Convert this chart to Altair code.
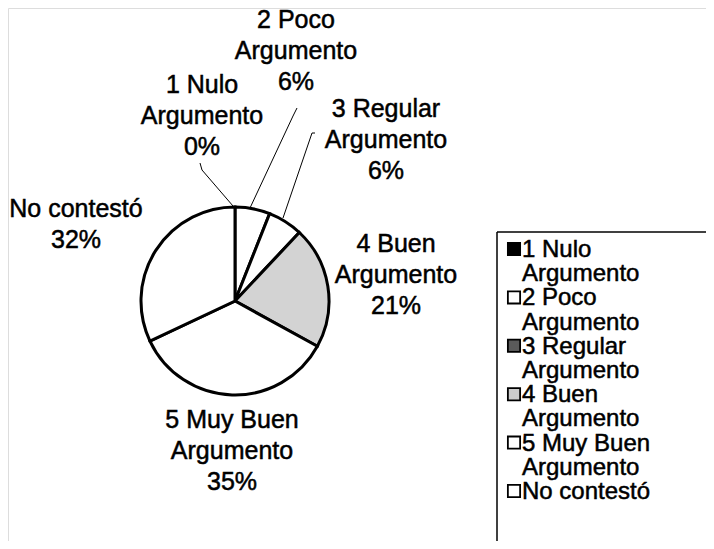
import altair as alt
import pandas as pd

# ---------------- data ----------------
categories = ["1 Nulo Argumento", "2 Poco Argumento", "3 Regular Argumento",
              "4 Buen Argumento", "5 Muy Buen Argumento", "No contestó"]
percents = [0, 6, 6, 21, 35, 32]

# ---------------- styles / layout ----------------
M = 8  # page margin
FONT = "Liberation Sans"
FS = 25
LEG_FS = 24
LH = 31
TXT_STROKE = 0.5
pie_fill = ["#000000", "#ffffff", "#ffffff", "#d3d3d3", "#ffffff", "#ffffff"]
legend_fill = ["#000000", "#ffffff", "#5a5a5a", "#cccccc", "#ffffff", "#ffffff"]
CX, CY, R = 235, 301, 94
# label anchor (centre x, first baseline y) in page pixels
label_pos = [(202, 93), (296, 28), (386, 117), (396, 252), (232, 428), (76, 217)]
# leader lines (page pixels)
leaders = [
    [(200, 163), (202, 170), (233, 206)],
    [(297, 108), (293, 116), (250, 208)],
    [(315, 133), (312, 133), (283, 218)],
]
LEG_X, LEG_Y = 497, 232
LEG_TEXT_X = 522
LEG_Y0, LEG_DY = 257, 24.2


def split_label(c):
    if c.endswith(" Argumento"):
        return [c[: -len(" Argumento")], "Argumento"]
    return [c]


# pie
pie_df = pd.DataFrame({
    "cat": categories,
    "pct": percents,
    "idx": list(range(len(categories))),
    "fill": pie_fill,
})
pie = alt.Chart(pie_df).mark_arc(outerRadius=R, stroke="black", strokeWidth=3).encode(
    theta=alt.Theta("pct:Q", stack=True),
    order=alt.Order("idx:Q"),
    fill=alt.Fill("fill:N", scale=None),
    x=alt.value(CX - M),
    y=alt.value(CY - M),
)

# slice labels
lab_rows = []
for c, p, (lx, ly) in zip(categories, percents, label_pos):
    lab_rows.append({"text": "\n".join(split_label(c) + [f"{p}%"]), "x": lx - M, "y": ly - M})
lab_df = pd.DataFrame(lab_rows)
labels = alt.Chart(lab_df).mark_text(
    font=FONT, fontSize=FS, lineBreak="\n", lineHeight=LH, align="center", baseline="alphabetic",
    color="black", stroke="black", strokeWidth=TXT_STROKE
).encode(x=alt.X("x:Q", scale=None), y=alt.Y("y:Q", scale=None), text="text:N")

# leader lines
lead_rows = []
for i, pts in enumerate(leaders):
    for j, (px, py) in enumerate(pts):
        lead_rows.append({"g": i, "o": j, "x": px - M, "y": py - M})
lead_df = pd.DataFrame(lead_rows)
lead = alt.Chart(lead_df).mark_line(color="black", strokeWidth=1).encode(
    x=alt.X("x:Q", scale=None), y=alt.Y("y:Q", scale=None), detail="g:N", order="o:Q"
)

# legend
leg_text_rows, leg_sym_rows = [], []
line = 0
for c, f in zip(categories, legend_fill):
    parts = split_label(c)
    leg_sym_rows.append({"x": LEG_X + 17 - M, "y": LEG_Y0 + line * LEG_DY - 8 - M, "fill": f})
    for t in parts:
        leg_text_rows.append({"text": t, "x": LEG_TEXT_X - M, "y": LEG_Y0 + line * LEG_DY - M})
        line += 1
leg_text = alt.Chart(pd.DataFrame(leg_text_rows)).mark_text(
    font=FONT, fontSize=LEG_FS, align="left", baseline="alphabetic", color="black",
    stroke="black", strokeWidth=TXT_STROKE
).encode(x=alt.X("x:Q", scale=None), y=alt.Y("y:Q", scale=None), text="text:N")
leg_sym = alt.Chart(pd.DataFrame(leg_sym_rows)).mark_square(
    size=150, stroke="black", strokeWidth=1.8, opacity=1
).encode(x=alt.X("x:Q", scale=None), y=alt.Y("y:Q", scale=None), fill=alt.Fill("fill:N", scale=None))

box = pd.DataFrame({"x": [LEG_X - M, LEG_X - M], "x2": [706 - M, LEG_X - M],
                    "y": [LEG_Y - M, LEG_Y - M], "y2": [LEG_Y - M, 549 - M]})
box_rules = alt.Chart(box).mark_rule(color="black", strokeWidth=1.5).encode(
    x=alt.X("x:Q", scale=None), x2="x2:Q", y=alt.Y("y:Q", scale=None), y2="y2:Q"
)

chart = alt.layer(pie, lead, labels, box_rules, leg_sym, leg_text).properties(
    width=698, height=533, padding=0, autosize=alt.AutoSizeParams(type="none")
).configure_view(stroke=None).configure(background="white")

chart.save("out.html", embed_options={"renderer": "svg", "actions": False})
